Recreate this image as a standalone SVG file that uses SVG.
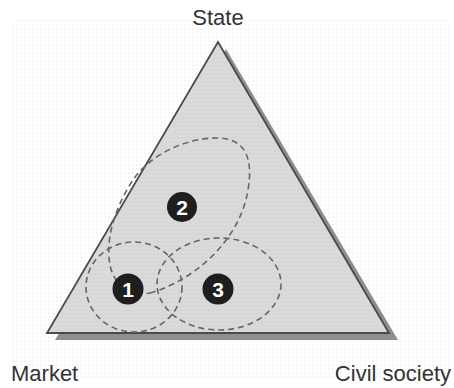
<svg xmlns="http://www.w3.org/2000/svg" width="454" height="388" viewBox="0 0 454 388">
<defs>
<pattern id="dots" width="4" height="4" patternUnits="userSpaceOnUse">
<circle cx="1" cy="1" r="0.6" fill="#d6d6d6"/>
</pattern>
<pattern id="dots2" width="4" height="4" patternUnits="userSpaceOnUse">
<rect width="4" height="4" fill="#dadada"/>
<circle cx="2" cy="2" r="0.6" fill="#c6c6c6"/>
</pattern>
<style>
.lbl{font-family:"Liberation Sans",Arial,sans-serif;font-size:22px;fill:#333;}
.ring{fill:none;stroke:#666;stroke-width:1.6;stroke-dasharray:6 4;}
.mark{fill:#1e1e1e;}
.num{font-family:"Liberation Sans",Arial,sans-serif;font-size:21px;font-weight:bold;fill:#fff;text-anchor:middle;}
</style>
</defs>
<rect width="454" height="388" fill="#fff"/>
<rect x="10" y="18" width="440" height="362" fill="url(#dots)"/>
<g id="triangle">
<polygon points="226,49 398,340 55,340" fill="#8e8e8e"/>
<polygon points="218,42 389,333 47,333" fill="url(#dots2)" stroke="#4a4a4a" stroke-width="1.8" stroke-linejoin="miter"/>
</g>
<g id="region-2"><path class="ring" d="M150,293 C195,280 240,240 248,190 C254,155 243,138 217,138 C185,138 150,155 133,180 C115,207 105,240 110,265 C114,285 130,297 150,293 Z"/></g>
<g id="region-1"><ellipse class="ring" cx="134" cy="287" rx="48" ry="45"/></g>
<g id="region-3"><ellipse class="ring" cx="219" cy="284" rx="62" ry="46"/></g>
<g id="marker-1"><circle class="mark" cx="128" cy="289" r="15.5"/><text class="num" x="128" y="296.5">1</text></g>
<g id="marker-2"><circle class="mark" cx="182" cy="207" r="15"/><text class="num" x="182" y="214.5">2</text></g>
<g id="marker-3"><circle class="mark" cx="218" cy="289" r="15.5"/><text class="num" x="218" y="296.5">3</text></g>
<g id="label-state"><text class="lbl" x="218" y="25" text-anchor="middle">State</text></g>
<g id="label-market"><text class="lbl" x="11" y="381">Market</text></g>
<g id="label-civil"><text class="lbl" x="451" y="381" text-anchor="end">Civil society</text></g>
</svg>
